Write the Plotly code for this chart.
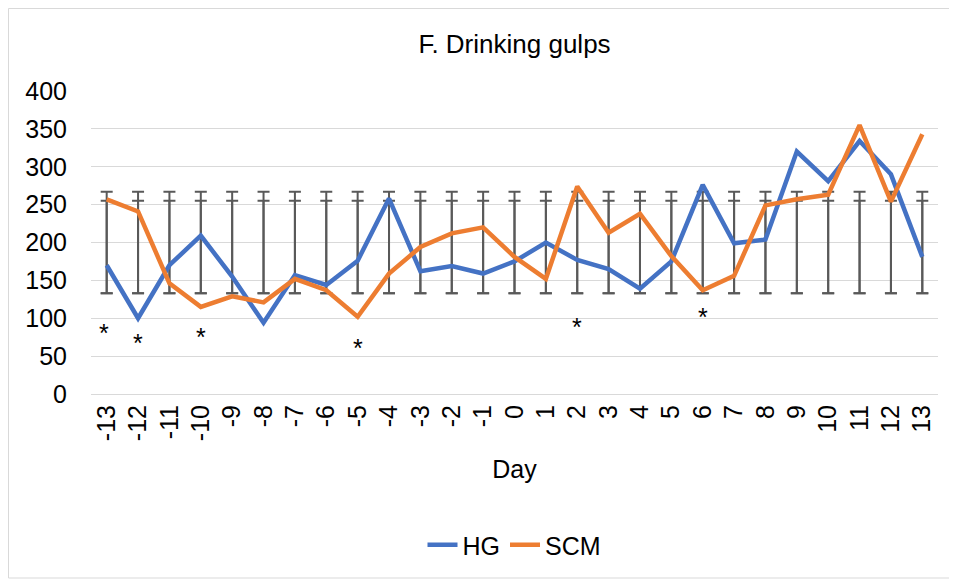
import plotly.graph_objects as go

days = ["-13", "-12", "-11", "-10", "-9", "-8", "-7", "-6", "-5", "-4", "-3", "-2", "-1", "0",
        "1", "2", "3", "4", "5", "6", "7", "8", "9", "10", "11", "12", "13"]
hg = [170, 100, 170, 209, 155, 94, 157, 144, 176, 258, 162, 169, 159, 175,
      200, 177, 165, 139, 175, 276, 199, 204, 320, 281, 334, 290, 181]
scm = [257, 241, 146, 115, 129, 121, 152, 137, 102, 159, 194, 212, 220, 181,
       152, 274, 213, 238, 182, 137, 156, 249, 257, 263, 355, 254, 343]
# error bar range (same at every day)
err_low = [133] * 27
err_high = [267] * 27
err_high2 = [255] * 27
star_days = ["-13", "-12", "-10", "-5", "2", "6"]
star_y = [80, 67, 75, 61, 89, 102]

FONT = "Liberation Sans, Arial, sans-serif"
ERR_COLOR = "#595959"
FS = 25
OFF = 8  # page body margin of the browser

fig = go.Figure()

mid = [(lo + hi) / 2 for lo, hi in zip(err_low, err_high)]
for top in (err_high, err_high2):
    fig.add_trace(go.Scatter(
        x=days, y=mid, mode="markers", showlegend=False, hoverinfo="skip",
        marker=dict(size=1, color="rgba(0,0,0,0)"),
        error_y=dict(type="data", symmetric=False,
                     array=[h - m for h, m in zip(top, mid)],
                     arrayminus=[m - l for m, l in zip(mid, err_low)],
                     color=ERR_COLOR, thickness=2, width=6)))

fig.add_trace(go.Scatter(x=days, y=hg, mode="lines", name="HG",
                         line=dict(color="#4472C4", width=4.5)))
fig.add_trace(go.Scatter(x=days, y=scm, mode="lines", name="SCM",
                         line=dict(color="#ED7D31", width=4.5)))

for d, yv in zip(star_days, star_y):
    fig.add_annotation(x=days.index(d), y=yv, text="*", showarrow=False,
                       xref="x", yref="y", xshift=-3 if d == "-13" else 0,
                       font=dict(family=FONT, size=FS, color="black"))

L, T, R, B = 91 - OFF, 91 - OFF, 957 - 938 + OFF, 580 - 394 + OFF
W = 957 - L - R
H = 580 - T - B

fig.update_layout(
    width=957, height=580,
    margin=dict(l=L, r=R, t=T, b=B),
    paper_bgcolor="white", plot_bgcolor="white",
    font=dict(family=FONT, color="black"),
    title=dict(text="F. Drinking gulps", x=(L + W / 2) / 957, xanchor="center",
               y=1 - (44 - OFF) / 580, yanchor="middle",
               font=dict(family=FONT, size=26, color="black")),
    xaxis=dict(type="category", categoryorder="array", categoryarray=days,
               range=[-0.5, len(days) - 0.5], tickmode="array", tickvals=days,
               ticktext=days, tickangle=-90, showgrid=False,
               showline=True, linecolor="#d9d9d9", linewidth=1,
               ticks="", tickfont=dict(family=FONT, size=FS, color="black"),
               title=dict(text="Day", font=dict(family=FONT, size=FS, color="black"),
                          standoff=20)),
    yaxis=dict(range=[0, 400], dtick=50, showgrid=True, gridcolor="#d9d9d9",
               gridwidth=1, zeroline=False, showline=False, ticks="",
               tickfont=dict(family=FONT, size=FS, color="black"),
               ticklabelstandoff=23),
    legend=dict(orientation="h", x=0.5, xanchor="center",
                y=-(545 - 394) / H, yanchor="middle",
                font=dict(family=FONT, size=FS, color="black")),
    shapes=[dict(type="rect", xref="paper", yref="paper",
                 x0=(0.5 - L) / W, x1=(955 - OFF - L) / W,
                 y0=-(578 - OFF - (580 - B)) / H, y1=(580 - B - 0.5) / H,
                 line=dict(color="#d9d9d9", width=1), fillcolor="rgba(0,0,0,0)",
                 layer="below")],
)

fig.write_html("out.html")
